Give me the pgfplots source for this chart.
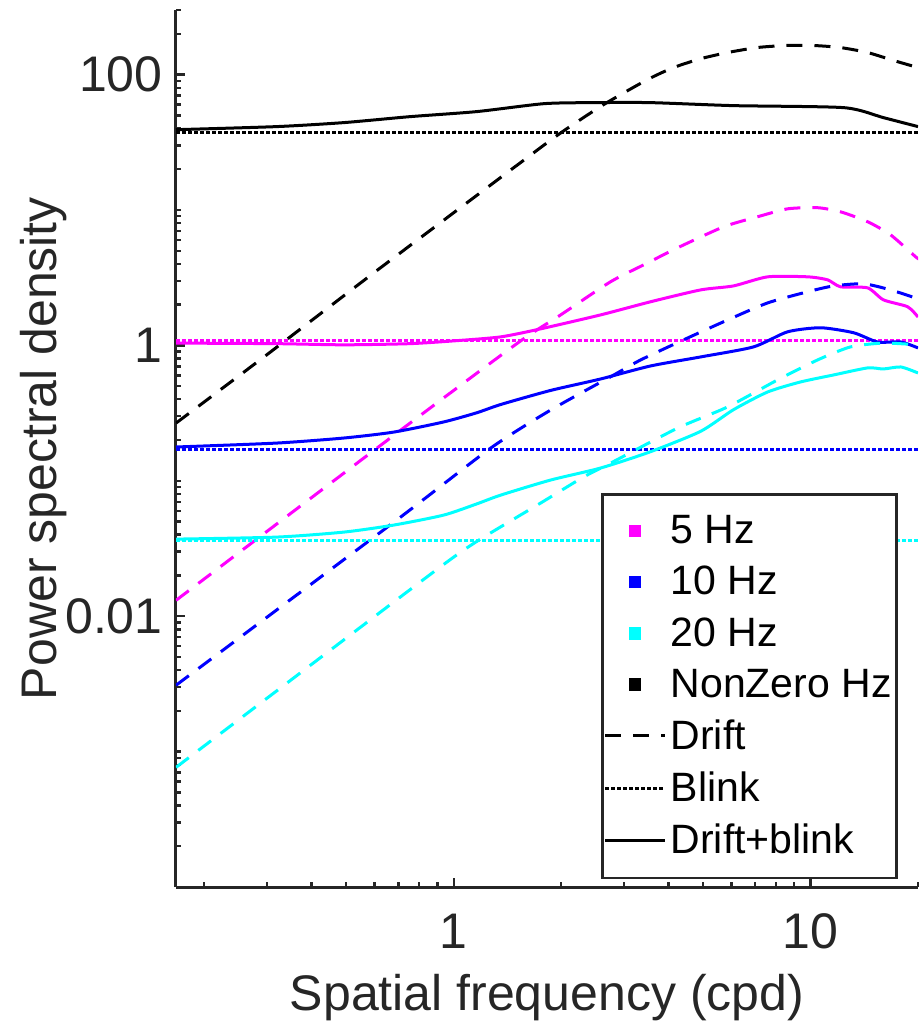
\documentclass[border=0pt]{standalone}
\usepackage{fontspec}
\setmainfont{Liberation Sans}
\usepackage{pgfplots}
\pgfplotsset{compat=1.18}
\definecolor{axgray}{RGB}{38,38,38}
\definecolor{cmag}{RGB}{255,0,255}
\definecolor{cblu}{RGB}{0,0,255}
\definecolor{ccyn}{RGB}{0,255,255}
\pgfplotsset{
  drift/.style={dash pattern=on 8pt off 6pt, line width=1.5pt, smooth, tension=0.4},
  blink/.style={dash pattern=on 2pt off 1pt, line width=1.5pt},
  both/.style={solid, line width=1.5pt, smooth, tension=0.4},
}
\begin{document}
\begin{tikzpicture}
\useasboundingbox (-88pt,-68pt) rectangle (373.5pt,443.5pt);
\begin{axis}[
  scale only axis, width=371pt, height=438.5pt,
  at={(0,0)}, anchor=south west,
  xmode=log, ymode=log,
  xmin=0.16667, xmax=20, ymin=0.0001, ymax=300,
  axis x line=bottom, axis y line=left,
  axis line style={axgray, line width=1.5pt, -},
  xtick={1,10}, xticklabels={1,10},
  ytick={0.01,1,100}, yticklabels={0.01,1,100},
  minor xtick={0.2,0.3,0.4,0.5,0.6,0.7,0.8,0.9,2,3,4,5,6,7,8,9,20},
  minor ytick={0.0002,0.0003,0.0004,0.0005,0.0006,0.0007,0.0008,0.0009,0.001,0.002,0.003,0.004,0.005,0.006,0.007,0.008,0.009,0.02,0.03,0.04,0.05,0.06,0.07,0.08,0.09,0.1,0.2,0.3,0.4,0.5,0.6,0.7,0.8,0.9,2,3,4,5,6,7,8,9,10,20,30,40,50,60,70,80,90,200,300},
  tick align=inside,
  major tick length=4.5pt, minor tick length=2.5pt,
  every tick/.style={axgray, line width=1.2pt},
  tick label style={font=\fontsize{25}{30}\selectfont, text=axgray},
  xticklabel style={anchor=base, inner sep=0pt, yshift=-30.9pt},
  yticklabel style={anchor=east, inner sep=0pt, xshift=-6.5pt},
  xlabel={Spatial frequency (cpd)},
  ylabel={Power spectral density},
  label style={font=\fontsize{25}{30}\selectfont, text=axgray},
  xlabel style={at={(axis description cs:0.5,-0.1412)}, anchor=base, inner sep=0pt},
  ylabel style={at={(axis description cs:-0.1617,0.5)}, anchor=base, inner sep=0pt},
  no markers,
  legend cell align=left,
  legend image code/.code={\draw[#1] (0pt,0pt) -- (30pt,0pt);},
  legend style={at={(0.973,0.449)}, anchor=north east, draw=axgray, line width=1.3pt,
    fill=white, font=\fontsize{20.5}{24}\selectfont, text=black,
    row sep=5.8pt, inner xsep=0.5pt, inner ysep=8.5pt},
]
\addlegendimage{legend image code/.code={\fill[cmag] (12.5pt,-2.5pt) rectangle (17.5pt,2.5pt);}}
\addlegendentry{5 Hz}
\addlegendimage{legend image code/.code={\fill[cblu] (12.5pt,-2.5pt) rectangle (17.5pt,2.5pt);}}
\addlegendentry{10 Hz}
\addlegendimage{legend image code/.code={\fill[ccyn] (12.5pt,-2.5pt) rectangle (17.5pt,2.5pt);}}
\addlegendentry{20 Hz}
\addlegendimage{legend image code/.code={\fill[black] (12.5pt,-2.5pt) rectangle (17.5pt,2.5pt);}}
\addlegendentry{NonZero Hz}
\addlegendimage{black, line width=1.5pt, dash pattern=on 8pt off 6pt}
\addlegendentry{Drift}
\addlegendimage{black, line width=1.5pt, dash pattern=on 2pt off 1pt}
\addlegendentry{Blink}
\addlegendimage{black, line width=1.5pt, solid}
\addlegendentry{Drift+blink}

% ---------- NonZero Hz (black)
\addplot[black, drift, forget plot] coordinates {
(0.1667,0.267)(0.294,0.822)(0.608,3.56)(1.435,19.5)(1.98,36.6)(2.63,60)(3.49,91.8)(4.13,112.7)(4.92,131)(5.85,145.5)(7.10,158.5)(8.51,164)(10.2,164)(12.1,158.5)(14.45,145.5)(17.1,127)(20,112.7)};
\addplot[black, blink, forget plot] coordinates {(0.1667,37.3)(20,37.3)};
\addplot[black, both, forget plot] coordinates {
(0.1667,39.2)(0.319,41.3)(0.492,44.2)(0.753,48.9)(1.16,53.3)(1.79,61.0)(2.47,62.1)(3.56,62.1)(6.08,59.0)(12.4,57.0)(16.0,48.1)(20,41.3)};

% ---------- 5 Hz (magenta)
\addplot[cmag, drift, forget plot] coordinates {
(0.1667,0.0131)(0.711,0.237)(1.51,1.04)(1.994,1.68)(2.75,2.95)(3.41,3.94)(4.24,5.26)(5.71,7.52)(7.10,8.91)(8.62,10.2)(10.46,10.4)(12.13,9.70)(14.45,8.19)(16.75,6.56)(19.7,4.51)(20,4.4)};
\addplot[cmag, blink, forget plot] coordinates {(0.1667,1.08)(20,1.08)};
\addplot[cmag, both, forget plot] coordinates {
(0.1667,1.04)(0.319,1.03)(0.492,1.01)(0.753,1.03)(1.0,1.08)(1.354,1.156)(1.752,1.325)(2.58,1.68)(3.56,2.10)(4.92,2.57)(6.08,2.75)(7.58,3.21)(9.81,3.21)(11.16,3.05)(12.13,2.71)(14.45,2.66)(16.0,2.17)(18.7,1.93)(20,1.62)};

% ---------- 10 Hz (blue)
\addplot[cblu, drift, forget plot] coordinates {
(0.1667,0.00309)(0.692,0.0513)(1.27,0.1746)(1.869,0.333)(2.81,0.605)(3.34,0.781)(4.41,1.10)(5.85,1.54)(7.58,2.06)(9.81,2.49)(11.6,2.75)(14.08,2.85)(16.75,2.57)(20,2.21)};
\addplot[cblu, blink, forget plot] coordinates {(0.1667,0.170)(20,0.170)};
\addplot[cblu, both, forget plot] coordinates {
(0.1667,0.1777)(0.319,0.190)(0.492,0.207)(0.679,0.229)(0.937,0.272)(1.16,0.318)(1.354,0.366)(1.869,0.465)(2.58,0.565)(3.56,0.705)(4.92,0.822)(6.92,0.975)(8.62,1.26)(10.67,1.35)(13.2,1.24)(15.4,1.06)(17.9,1.06)(20,0.958)};

% ---------- 20 Hz (cyan)
\addplot[ccyn, drift, forget plot] coordinates {
(0.1667,0.000765)(0.808,0.018)(1.138,0.0345)(1.752,0.0685)(2.31,0.1066)(2.75,0.135)(4.24,0.245)(5.85,0.351)(8.08,0.556)(10.46,0.781)(12.94,0.975)(16.0,1.04)(20,1.01)};
\addplot[ccyn, blink, forget plot] coordinates {(0.1667,0.0365)(20,0.0365)};
\addplot[ccyn, both, forget plot] coordinates {
(0.1667,0.0371)(0.319,0.0384)(0.492,0.0418)(0.679,0.0471)(0.937,0.0558)(1.16,0.0675)(1.354,0.0784)(1.869,0.1013)(2.58,0.1243)(3.56,0.1640)(4.92,0.232)(6.08,0.335)(7.58,0.453)(9.37,0.537)(11.6,0.605)(14.45,0.682)(16.0,0.670)(17.9,0.693)(20,0.626)};
\end{axis}
\end{tikzpicture}
\end{document}
